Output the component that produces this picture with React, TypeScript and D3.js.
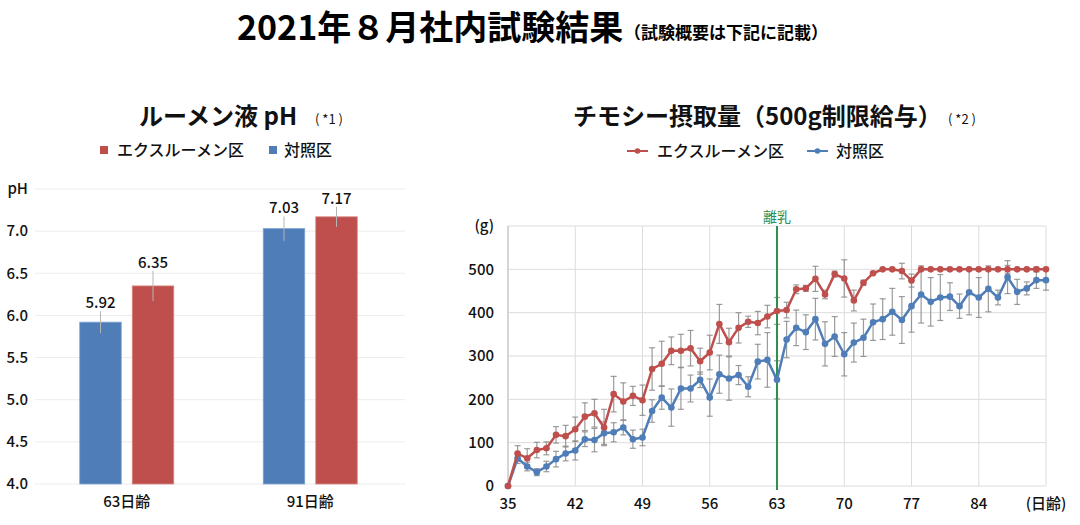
import * as d3 from 'd3';

const FONT = '"Noto Sans CJK JP", "Noto Sans", sans-serif';
const RED = '#be4f4c';
const BLUE = '#4f7db8';
const GREEN = '#2f8f4e';

// ---- left chart: rumen fluid pH ----
const phAges = ['63日齢', '91日齢'];
const phControl = [5.92, 7.03];
const phControlErr = [0.13, 0.145];
const phExcess = [6.35, 7.17];
const phExcessErr = [0.18, 0.12];
const phTicks = [4.0, 4.5, 5.0, 5.5, 6.0, 6.5, 7.0];

// ---- right chart: timothy intake (g), daily from day 35 ----
const startDay = 35;
const excessIntake = [
  0, 75, 64, 83, 87, 118, 115, 131, 160, 168, 135, 212, 195, 208, 198, 270, 282, 312, 312, 318,
  288, 308, 374, 332, 365, 379, 376, 391, 404, 406, 454, 456, 478, 442, 489, 479, 428, 469, 491, 500,
  500, 496, 474, 500, 500, 500, 500, 500, 500, 500, 500, 500, 500, 500, 500, 500, 500,
];
const excessErr = [
  0, 18, 22, 18, 15, 19, 25, 28, 32, 32, 42, 41, 43, 22, 35, 49, 52, 32, 38, 41,
  30, 40, 45, 32, 35, 13, 27, 26, 31, 18, 10, 7, 29, 10, 7, 43, 24, 6, 3, 0,
  0, 18, 15, 0, 0, 0, 0, 0, 0, 0, 0, 0, 9, 0, 0, 5, 0,
];
const controlIntake = [
  0, 64, 45, 32, 45, 62, 75, 82, 108, 106, 122, 124, 135, 108, 112, 173, 204, 181, 225, 225,
  245, 204, 258, 248, 256, 229, 287, 291, 245, 338, 365, 355, 385, 328, 345, 304, 331, 342, 378, 385,
  402, 383, 415, 442, 425, 435, 437, 415, 447, 435, 455, 435, 482, 448, 456, 475, 475,
];
const controlErr = [
  0, 12, 10, 8, 12, 18, 17, 22, 17, 27, 26, 22, 17, 21, 19, 26, 27, 43, 48, 31,
  18, 43, 44, 50, 22, 23, 40, 63, 44, 42, 41, 40, 48, 51, 46, 50, 45, 43, 42, 47,
  54, 54, 60, 66, 56, 53, 32, 28, 52, 46, 53, 17, 38, 29, 15, 19, 23,
];
const dayTicks = [35, 42, 49, 56, 63, 70, 77, 84, 91];
const intakeTicks = [0, 100, 200, 300, 400, 500, 600];
const weaningDay = 63;

function PhChart() {
  const x = d3.scaleBand().domain(phAges).range([35, 402]);
  const inner = d3
    .scaleBand()
    .domain(['control', 'excess'])
    .range([x.bandwidth() / 2 - 47, x.bandwidth() / 2 + 47])
    .paddingInner(0.21);
  const y = d3.scaleLinear().domain([4, 7.5]).range([484, 189]);

  const series = [
    { key: 'control', values: phControl, errs: phControlErr, color: BLUE, stroke: '#7fa3d1' },
    { key: 'excess', values: phExcess, errs: phExcessErr, color: RED, stroke: '#d98583' },
  ];

  return (
    <g>
      <text x={139} y={125} fontSize={24} fontWeight="bold" fill="#111">ルーメン液 pH</text>
      <text x={315} y={124} fontSize={13} fill="#111">( *1 )</text>

      {/* legend */}
      <rect x={100} y={146} width={8} height={8} fill={RED} />
      <text x={117} y={156} fontSize={16} fontWeight={500} fill="#111">エクスルーメン区</text>
      <rect x={269} y={146} width={8} height={8} fill={BLUE} />
      <text x={284} y={156} fontSize={16} fontWeight={500} fill="#111">対照区</text>

      {/* grid */}
      {[...phTicks, 7.5].map((t) => (
        <line key={t} x1={35} x2={405} y1={y(t)} y2={y(t)} stroke="#ececec" strokeWidth={1} />
      ))}
      {phTicks.map((t) => (
        <text key={t} x={28} y={y(t)} dy="0.35em" textAnchor="end" fontSize={15} fontWeight={500} fill="#111">
          {t.toFixed(1)}
        </text>
      ))}
      <text x={28} y={y(7.5)} dy="0.35em" textAnchor="end" fontSize={15} fontWeight={500} fill="#111">pH</text>

      {phAges.map((age, i) => (
        <g key={age} transform={`translate(${x(age)},0)`}>
          {series.map((s) => {
            const bx = inner(s.key)!;
            const cx = bx + inner.bandwidth() / 2;
            const v = s.values[i];
            const e = s.errs[i];
            return (
              <g key={s.key}>
                <rect
                  x={bx}
                  y={y(v)}
                  width={inner.bandwidth()}
                  height={y(4) - y(v)}
                  fill={s.color}
                  stroke={s.stroke}
                  strokeWidth={0.8}
                />
                <line x1={cx} x2={cx} y1={y(v + e)} y2={y(v - e)} stroke="#b5b5b5" strokeWidth={1} />
                <text x={cx} y={y(v + e) - 3} textAnchor="middle" fontSize={15} fontWeight={500} fill="#111">
                  {v.toFixed(2)}
                </text>
              </g>
            );
          })}
          <text x={x.bandwidth() / 2} y={502} dy="0.35em" textAnchor="middle" fontSize={15} fontWeight={500} fill="#111">
            {age}
          </text>
        </g>
      ))}
    </g>
  );
}

function IntakeChart() {
  const x = d3.scaleLinear().domain([35, 91]).range([508, 1046]);
  const y = d3.scaleLinear().domain([0, 600]).range([486, 226]);
  const days = excessIntake.map((_, i) => startDay + i);

  const line = d3
    .line<number>()
    .x((_, i) => x(days[i]))
    .y((d) => y(d));

  const series = [
    { key: 'control', values: controlIntake, errs: controlErr, color: BLUE },
    { key: 'excess', values: excessIntake, errs: excessErr, color: RED },
  ];

  return (
    <g>
      <text x={573} y={125} fontSize={24} fontWeight="bold" fill="#111">チモシー摂取量（500g制限給与）</text>
      <text x={948} y={124} fontSize={13} fill="#111">( *2 )</text>

      {/* legend */}
      <line x1={627} x2={648} y1={151} y2={151} stroke={RED} strokeWidth={2} />
      <circle cx={637.5} cy={151} r={2.8} fill={RED} />
      <text x={657} y={157} fontSize={16} fontWeight={500} fill="#111">エクスルーメン区</text>
      <line x1={807} x2={828} y1={151} y2={151} stroke={BLUE} strokeWidth={2} />
      <circle cx={817.5} cy={151} r={2.8} fill={BLUE} />
      <text x={836} y={157} fontSize={16} fontWeight={500} fill="#111">対照区</text>

      {/* grid */}
      {intakeTicks.map((t) => (
        <line key={t} x1={x(35)} x2={x(91)} y1={y(t)} y2={y(t)} stroke="#dcdcdc" strokeWidth={1} />
      ))}
      {dayTicks.map((d) => (
        <line key={d} x1={x(d)} x2={x(d)} y1={y(600)} y2={y(0)} stroke="#dcdcdc" strokeWidth={1} />
      ))}
      <line x1={x(35)} x2={x(35)} y1={y(600)} y2={y(0)} stroke="#bdbdbd" strokeWidth={1} />

      {intakeTicks.map((t) => (
        <text key={t} x={494} y={y(t)} dy="0.35em" textAnchor="end" fontSize={15} fontWeight={500} fill="#111">
          {t === 600 ? '(g)' : t}
        </text>
      ))}
      {dayTicks.map((d) => (
        <text key={d} x={x(d)} y={504} dy="0.35em" textAnchor="middle" fontSize={15} fontWeight={500} fill="#111">
          {d === 91 ? '(日齢)' : d}
        </text>
      ))}

      {/* error bars */}
      {series.map((s) => (
        <g key={`err-${s.key}`} stroke="#8a8a8a" strokeOpacity={0.85} strokeWidth={1.2}>
          {s.values.map((v, i) => {
            const e = s.errs[i];
            if (e <= 0) return null;
            const cx = x(days[i]);
            return (
              <g key={i}>
                <line x1={cx} x2={cx} y1={y(v + e)} y2={y(v - e)} />
                <line x1={cx - 3} x2={cx + 3} y1={y(v + e)} y2={y(v + e)} />
                <line x1={cx - 3} x2={cx + 3} y1={y(v - e)} y2={y(v - e)} />
              </g>
            );
          })}
        </g>
      ))}

      {/* weaning line */}
      <line x1={x(weaningDay)} x2={x(weaningDay)} y1={y(600)} y2={y(0) + 4} stroke={GREEN} strokeWidth={2} />
      <text x={x(weaningDay)} y={217} dy="0.35em" textAnchor="middle" fontSize={14} fill={GREEN}>離乳</text>

      {/* lines */}
      {series.map((s) => (
        <g key={s.key}>
          <path d={line(s.values)!} fill="none" stroke={s.color} strokeWidth={2.5} strokeLinejoin="round" />
          {s.values.map((v, i) => (
            <circle key={i} cx={x(days[i])} cy={y(v)} r={3.3} fill={s.color} />
          ))}
        </g>
      ))}
    </g>
  );
}

export default function App() {
  return (
    <svg
      width={1080}
      height={525}
      style={{ position: 'absolute', left: 0, top: 0, background: '#fff' }}
      fontFamily={FONT}
    >
      <text x={237} y={40} fontSize={34} fontWeight="bold" fill="#000">2021年８月社内試験結果</text>
      <text x={624} y={39} fontSize={17} fontWeight="bold" fill="#000">（試験概要は下記に記載）</text>
      <PhChart />
      <IntakeChart />
    </svg>
  );
}
